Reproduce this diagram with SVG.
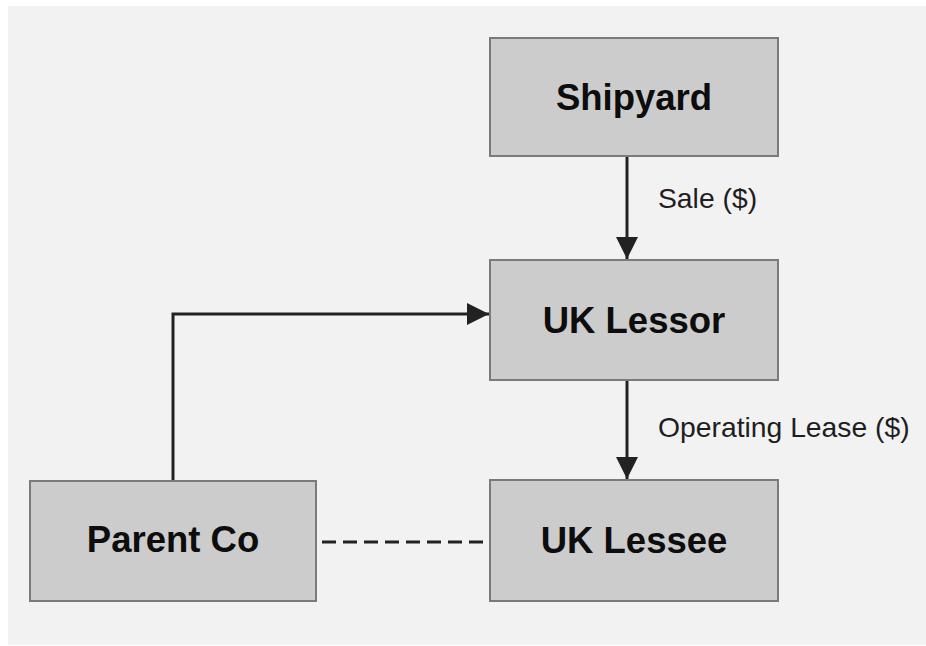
<svg xmlns="http://www.w3.org/2000/svg" width="926" height="646" viewBox="0 0 926 646">
  <style>
    .box { fill: #cccccc; stroke: #7a7a7a; stroke-width: 2; }
    .title { font-family: "Liberation Sans", Arial, sans-serif; font-weight: bold; font-size: 36.5px; fill: #0d0d0d; text-anchor: middle; }
    .label { font-family: "Liberation Sans", Arial, sans-serif; font-size: 28.3px; fill: #1e1e1e; }
    .edge { fill: none; stroke: #222222; stroke-width: 3; }
    .dash { fill: none; stroke: #222222; stroke-width: 3; stroke-dasharray: 14 7; }
  </style>
  <defs>
    <marker id="arrow" markerUnits="userSpaceOnUse" markerWidth="24" markerHeight="24" viewBox="0 0 24 24" refX="22" refY="12" orient="auto">
      <path d="M0,1 L22,12 L0,23 Z" fill="#222222"/>
    </marker>
  </defs>

  <rect x="0" y="0" width="926" height="646" fill="#ffffff"/>
  <rect x="8" y="6" width="918" height="639" fill="#f2f2f2"/>

  <g id="connectors">
    <line class="edge" x1="627" y1="157" x2="627" y2="259" marker-end="url(#arrow)"/>
    <line class="edge" x1="627" y1="381" x2="627" y2="479" marker-end="url(#arrow)"/>
    <polyline class="edge" points="173,480 173,314 489,314" marker-end="url(#arrow)"/>
    <line class="dash" x1="322" y1="542" x2="483" y2="542"/>
    <text class="label" x="658" y="208">Sale ($)</text>
    <text class="label" x="658" y="437">Operating Lease ($)</text>
  </g>

  <g id="shipyard">
    <rect class="box" x="490" y="38" width="288" height="118"/>
    <text class="title" x="634" y="110">Shipyard</text>
  </g>

  <g id="uk-lessor">
    <rect class="box" x="490" y="260" width="288" height="120"/>
    <text class="title" x="634" y="333">UK Lessor</text>
  </g>

  <g id="uk-lessee">
    <rect class="box" x="490" y="480" width="288" height="121"/>
    <text class="title" x="634" y="553">UK Lessee</text>
  </g>

  <g id="parent-co">
    <rect class="box" x="30" y="481" width="286" height="120"/>
    <text class="title" x="173" y="552">Parent Co</text>
  </g>
</svg>
